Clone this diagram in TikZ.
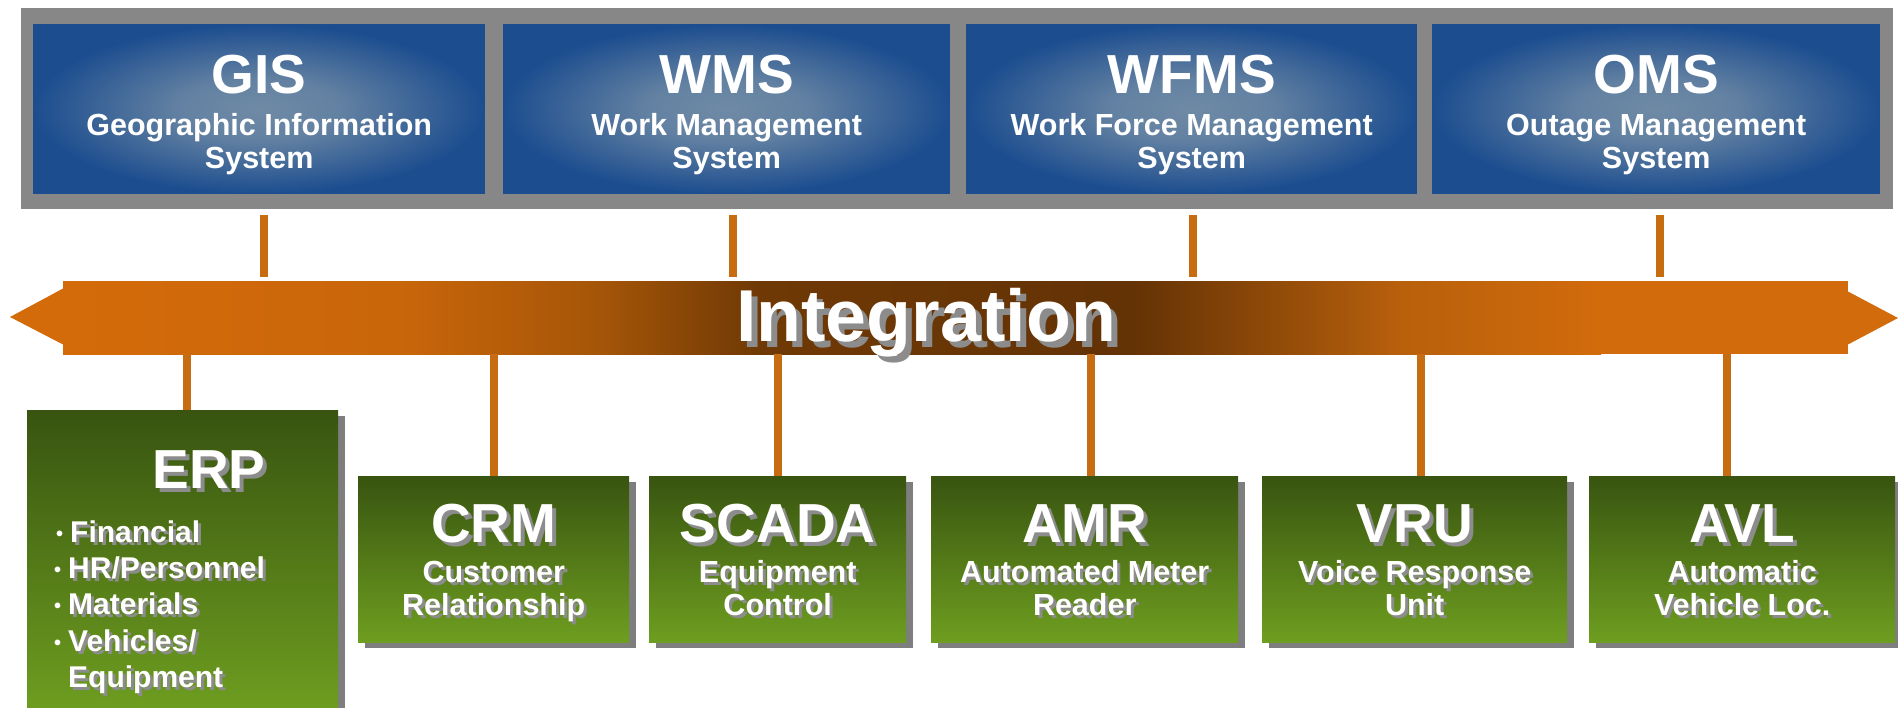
\documentclass[tikz,border=0pt]{standalone}
\usepackage{fontspec}
\setmainfont{Liberation Sans}
\usetikzlibrary{calc}

\definecolor{framegray}{HTML}{878787}
\definecolor{blueedge}{HTML}{1C4D8F}
\definecolor{blueglow}{HTML}{6F8AA5}
\definecolor{stubcol}{HTML}{C86C12}
\definecolor{greentop}{HTML}{385410}
\definecolor{greenbot}{HTML}{6E9E20}
\definecolor{boxshadow}{HTML}{7E7E7E}
\definecolor{txtshadow}{HTML}{8C8C8C}
\definecolor{oA}{HTML}{D46B0A}
\definecolor{oB}{HTML}{C9660A}
\definecolor{oC}{HTML}{A55508}
\definecolor{oD}{HTML}{6F3905}
\definecolor{oE}{HTML}{633205}
\definecolor{oF}{HTML}{B8600C}
\definecolor{oG}{HTML}{D26B0C}

\pgfdeclareradialshading{blueglowshade}{\pgfpoint{0bp}{0bp}}{%
  color(0bp)=(blueglow); color(9bp)=(blueglow!85!blueedge);
  color(25bp)=(blueedge); color(50bp)=(blueedge)}

\newcommand\shadowtxt[2]{\makebox[0pt][l]{\hspace{#1}\raisebox{-#1}{\textcolor{txtshadow}{#2}}}#2}
\newcommand\bul{\makebox[0pt][r]{{\fontsize{20}{20}\selectfont\raisebox{2pt}{•}}\hspace{7pt}}}

\tikzset{
  bluebox/.style={rectangle, inner sep=0pt, fill=blueedge, minimum height=170,
    path picture={\shade[shading=blueglowshade]
      (path picture bounding box.center) ellipse [x radius=224, y radius=84];}},
  greenbox/.style={rectangle, inner sep=0pt, top color=greentop, bottom color=greenbot, minimum height=166},
  toptitle/.style={anchor=base, inner sep=0pt, text=white, font=\bfseries\fontsize{55}{60}\selectfont},
  topsub/.style={anchor=base, inner sep=0pt, text=white, font=\bfseries\fontsize{30.5}{33}\selectfont},
  gtitle/.style={anchor=base, inner sep=0pt, text=white, font=\bfseries\fontsize{55}{60}\selectfont},
  gsub/.style={anchor=base, inner sep=0pt, text=white, font=\bfseries\fontsize{30.5}{33}\selectfont},
  erpitem/.style={anchor=base west, inner sep=0pt, text=white, font=\bfseries\fontsize{30}{33}\selectfont},
  stub/.style={line width=8pt, draw=stubcol},
}

\newcommand\topbox[6]{%
  \node[bluebox, minimum width={#3-#2}, anchor=north west] (#1) at (#2,24) {};
  \node[toptitle] (#1-t) at ($(#1.north)+(0,69)$) {#4};
  \node[topsub] (#1-s1) at ($(#1.north)+(0,111)$) {#5};
  \node[topsub] (#1-s2) at ($(#1.north)+(0,144)$) {#6};
}
\newcommand\grbox[6]{%
  \fill[boxshadow] ({#2+7},482) rectangle ({#3+7},648);
  \node[greenbox, minimum width={#3-#2}, anchor=north west] (#1) at (#2,476) {};
  \node[gtitle] (#1-t) at ($(#1.north)+(0,66)$) {\shadowtxt{4pt}{#4}};
  \node[gsub] (#1-s1) at ($(#1.north)+(0,106)$) {\shadowtxt{3pt}{#5}};
  \node[gsub] (#1-s2) at ($(#1.north)+(0,139)$) {\shadowtxt{3pt}{#6}};
}

\begin{document}
\begin{tikzpicture}[x=1pt, y=-1pt]
\useasboundingbox (0,0) rectangle (1898,707);
\fill[white] (0,0) rectangle (1898,707);

% top frame and boxes
\node[fill=framegray, inner sep=0pt, minimum width=1872, minimum height=201, anchor=north west] (frame) at (21,8) {};
\topbox{gis}{33}{485}{GIS}{Geographic Information}{System}
\topbox{wms}{503}{950}{WMS}{Work Management}{System}
\topbox{wfms}{966}{1417}{WFMS}{Work Force Management}{System}
\topbox{oms}{1432}{1880}{OMS}{Outage Management}{System}

% integration band
\shade[left color=oA, right color=oB] (63,281) rectangle (401,354);
\shade[left color=oB, right color=oC] (400,281) rectangle (601,354);
\shade[left color=oC, right color=oD] (600,281) rectangle (761,354);
\shade[left color=oD, right color=oE] (760,281) rectangle (1131,354);
\shade[left color=oE, right color=oF] (1130,281) rectangle (1401,354);
\shade[left color=oF, right color=oG] (1400,281) rectangle (1601,354);
\fill[oG] (1600,281) rectangle (1848,354);
\fill[oA] (64,288) -- (10,317) -- (64,345) -- cycle;
\fill[oG] (1847,291) -- (1898,318) -- (1847,345) -- cycle;
\node[inner sep=0pt, minimum width=1785, minimum height=73, anchor=north west] (band) at (63,281) {};
\node[anchor=base, inner sep=0pt, text=white, font=\bfseries\fontsize{73.5}{80}\selectfont] (integ) at (926,341) {\shadowtxt{6pt}{Integration}};

% top stubs
\draw[stub] ($(gis.south)+(5,21)$) -- ($(gis.south |- band.north)+(5,-4)$);
\draw[stub] ($(wms.south)+(6.5,21)$) -- ($(wms.south |- band.north)+(6.5,-4)$);
\draw[stub] ($(wfms.south)+(1.5,21)$) -- ($(wfms.south |- band.north)+(1.5,-4)$);
\draw[stub] ($(oms.south)+(4,21)$) -- ($(oms.south |- band.north)+(4,-4)$);

% ERP box
\fill[boxshadow] (34,416) rectangle (345,712);
\node[greenbox, minimum width=311, minimum height=302, anchor=north west] (erp) at (27,410) {};
\node[gtitle] (erp-t) at (209,488) {\shadowtxt{4pt}{ERP}};
\node[erpitem] (erp-1) at (70,542) {\bul\shadowtxt{3pt}{Financial}};
\node[erpitem] (erp-2) at (68,578) {\bul\shadowtxt{3pt}{HR/Personnel}};
\node[erpitem] (erp-3) at (68,614) {\bul\shadowtxt{3pt}{Materials}};
\node[erpitem] (erp-4) at (68,651) {\bul\shadowtxt{3pt}{Vehicles/}};
\node[erpitem] (erp-5) at (68,687) {\shadowtxt{3pt}{Equipment}};

% other green boxes
\grbox{crm}{358}{629}{CRM}{Customer}{Relationship}
\grbox{scada}{649}{906}{SCADA}{Equipment}{Control}
\grbox{amr}{931}{1238}{AMR}{Automated Meter}{Reader}
\grbox{vru}{1262}{1567}{VRU}{Voice Response}{Unit}
\grbox{avl}{1589}{1895}{AVL}{Automatic}{Vehicle Loc.}

% bottom stubs
\draw[stub] ($(erp.north |- band.south)+(4.5,0)$) -- ($(erp.north)+(4.5,0)$);
\draw[stub] (crm.north |- band.south) -- (crm.north);
\draw[stub] (scada.north |- band.south) -- (scada.north);
\draw[stub] ($(amr.north |- band.south)+(6.5,0)$) -- ($(amr.north)+(6.5,0)$);
\draw[stub] ($(vru.north |- band.south)+(6.5,0)$) -- ($(vru.north)+(6.5,0)$);
\draw[stub] ($(avl.north |- band.south)+(-15,0)$) -- ($(avl.north)+(-15,0)$);
\end{tikzpicture}
\end{document}
